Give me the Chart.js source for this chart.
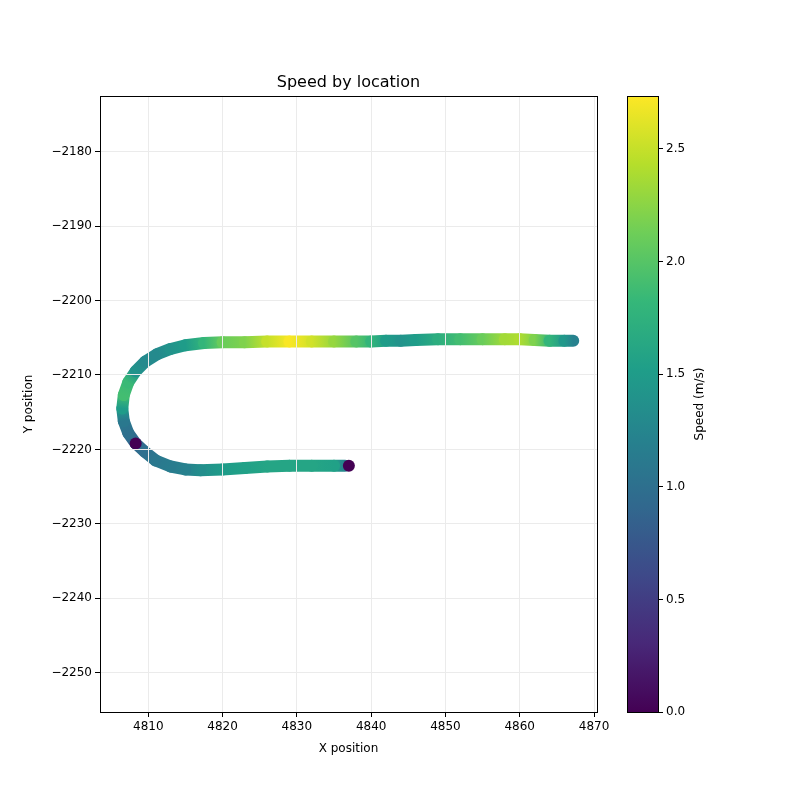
<!DOCTYPE html>
<html>
<head>
<meta charset="utf-8">
<script src="https://cdn.jsdelivr.net/npm/chart.js@4/dist/chart.umd.min.js"></script>
<style>
  body { margin: 0; background: #fff; }
  #wrap { position: relative; width: 800px; height: 800px; font-family: 'DejaVu Sans', sans-serif; }
  #title { position: absolute; left: 100px; width: 497px; top: 72px; text-align: center; font-size: 16px; }
  #main { position: absolute; left: 0; top: 0; }
  #cbar { position: absolute; left: 600px; top: 0; }
</style>
</head>
<body>
<div id="wrap">
  <canvas id="main" width="620" height="800"></canvas>
  <canvas id="cbar" width="112" height="800"></canvas>
  <div id="title">Speed by location</div>
</div>
<script>
// track, in order
const trackX = [4836.5, 4835, 4832, 4829, 4826, 4823, 4820, 4817, 4815, 4813, 4811, 4809.5, 4808.3, 4807.3, 4806.7, 4806.5, 4806.7, 4807.3, 4808.3, 4809.6, 4811.2, 4813, 4815, 4817.5, 4820, 4823, 4826, 4829, 4832, 4835, 4838, 4840, 4842, 4844, 4846, 4849, 4852, 4855, 4858, 4860, 4862, 4864, 4866, 4867.2];
const trackY = [-2222.2, -2222.2, -2222.2, -2222.2, -2222.3, -2222.5, -2222.7, -2222.8, -2222.7, -2222.3, -2221.5, -2220.3, -2219.2, -2217.8, -2216.2, -2214.5, -2212.7, -2211, -2209.5, -2208.2, -2207.2, -2206.5, -2206, -2205.7, -2205.6, -2205.6, -2205.5, -2205.5, -2205.5, -2205.5, -2205.5, -2205.5, -2205.4, -2205.4, -2205.3, -2205.2, -2205.2, -2205.2, -2205.2, -2205.2, -2205.3, -2205.4, -2205.4, -2205.4];
const trackSpeed = [1.2, 1.55, 1.6, 1.6, 1.6, 1.55, 1.5, 1.35, 1.2, 1.15, 1.1, 1.0, 0.9, 1.0, 1.1, 1.5, 1.9, 1.85, 1.4, 1.3, 1.3, 1.4, 1.5, 1.8, 2.1, 2.2, 2.5, 2.72, 2.55, 2.3, 2.0, 1.8, 1.5, 1.4, 1.5, 1.7, 1.9, 2.1, 2.35, 2.4, 2.2, 1.8, 1.45, 1.2];
// stopped points
const stopX = [4837, 4808.3];
const stopY = [-2222.2, -2219.2];
const stopSpeed = [0, 0];

const xTicks = [4810, 4820, 4830, 4840, 4850, 4860, 4870];
const yTicks = [-2250, -2240, -2230, -2220, -2210, -2200, -2190, -2180];
const cbTicks = [0, 0.5, 1, 1.5, 2, 2.5];
const speedMax = 2.735;

const viridis = ['#440154', '#482878', '#3e4989', '#31688e', '#26828e', '#1f9e89', '#35b779', '#6ece58', '#b5de2b', '#fde725'];
function hex(c) { return [1, 3, 5].map(i => parseInt(c.substr(i, 2), 16)); }
function colorOf(v) {
  let t = Math.max(0, Math.min(1, v / speedMax)) * (viridis.length - 1);
  let i = Math.min(Math.floor(t), viridis.length - 2), f = t - i;
  let a = hex(viridis[i]), b = hex(viridis[i + 1]);
  return 'rgb(' + a.map((x, k) => Math.round(x + (b[k] - x) * f)).join(',') + ')';
}
const minus = v => v < 0 ? '\u2212' + Math.abs(v) : '' + v;
const font = { family: 'DejaVu Sans', size: 12 };

const trackPts = trackX.map((x, i) => ({ x: x, y: trackY[i] }));
const stopPts = stopX.map((x, i) => ({ x: x, y: stopY[i] }));

function frame(c) {
  const a = c.chartArea, ctx = c.ctx;
  ctx.save(); ctx.strokeStyle = '#000'; ctx.lineWidth = 1;
  ctx.strokeRect(a.left + 0.5, a.top + 0.5, a.right - a.left, a.bottom - a.top);
  ctx.restore();
}

new Chart(document.getElementById('main'), {
  type: 'scatter',
  data: {
    datasets: [{
      data: trackPts,
      order: 2,
      showLine: true,
      borderWidth: 12,
      borderCapStyle: 'round',
      borderJoinStyle: 'round',
      pointRadius: 0,
      segment: {
        borderColor: c => {
          const g = c.chart.ctx.createLinearGradient(c.p0.x, c.p0.y, c.p1.x, c.p1.y);
          g.addColorStop(0, colorOf(trackSpeed[c.p0DataIndex]));
          g.addColorStop(1, colorOf(trackSpeed[c.p1DataIndex]));
          return g;
        }
      }
    }, {
      data: stopPts,
      order: 1,
      pointRadius: 6,
      pointBorderWidth: 0,
      backgroundColor: stopSpeed.map(colorOf)
    }]
  },
  options: {
    responsive: false,
    animation: false,
    layout: { padding: { top: 96, right: 23, left: 0, bottom: 0 } },
    plugins: { legend: { display: false }, tooltip: { enabled: false } },
    scales: {
      x: {
        min: 4803.5, max: 4870.4,
        afterBuildTicks: s => { s.ticks = xTicks.map(v => ({ value: v })); },
        afterFit: s => { s.height = 88; },
        ticks: { color: '#000', font: font, callback: minus },
        grid: { color: '#ebebeb', z: 1, tickColor: '#000', tickLength: 5 },
        border: { display: false },
        title: { display: true, text: 'X position', color: '#000', font: font, padding: { top: 0, bottom: 44 } }
      },
      y: {
        min: -2255.3, max: -2172.5,
        afterBuildTicks: s => { s.ticks = yTicks.map(v => ({ value: v })); },
        afterFit: s => { s.width = 100; },
        ticks: { color: '#000', font: font, callback: minus },
        grid: { color: '#ebebeb', z: 1, tickColor: '#000', tickLength: 5 },
        border: { display: false },
        title: { display: true, text: 'Y position', color: '#000', font: font, padding: { top: 22, bottom: 0 } }
      }
    }
  },
  plugins: [{ id: 'frame', afterDraw: frame }]
});

new Chart(document.getElementById('cbar'), {
  type: 'scatter',
  data: { datasets: [{ data: [] }] },
  options: {
    responsive: false,
    animation: false,
    layout: { padding: { top: 96, left: 27, right: 0, bottom: 0 } },
    plugins: { legend: { display: false }, tooltip: { enabled: false } },
    scales: {
      x: { display: false, afterFit: s => { s.height = 88; } },
      y: {
        position: 'right',
        min: 0, max: speedMax,
        afterBuildTicks: s => { s.ticks = cbTicks.map(v => ({ value: v })); },
        afterFit: s => { s.width = 54; },
        ticks: { color: '#000', font: font, callback: v => v.toFixed(1) },
        grid: { drawOnChartArea: false, tickColor: '#000', tickLength: 5 },
        border: { display: false }
      }
    }
  },
  plugins: [{
    id: 'gradient',
    beforeDatasetsDraw: c => {
      const a = c.chartArea, ctx = c.ctx;
      const g = ctx.createLinearGradient(0, a.bottom, 0, a.top);
      viridis.forEach((col, i) => g.addColorStop(i / (viridis.length - 1), col));
      ctx.save();
      ctx.fillStyle = g;
      ctx.fillRect(a.left, a.top, a.right - a.left, a.bottom - a.top);
      ctx.restore();
    },
    afterDraw: c => {
      frame(c);
      const a = c.chartArea, ctx = c.ctx;
      ctx.save();
      ctx.translate(100, (a.top + a.bottom) / 2);
      ctx.rotate(-Math.PI / 2);
      ctx.font = '12px "DejaVu Sans"';
      ctx.fillStyle = '#000';
      ctx.textAlign = 'center';
      ctx.textBaseline = 'middle';
      ctx.fillText('Speed (m/s)', 0, 0);
      ctx.restore();
    }
  }]
});
</script>
</body>
</html>
